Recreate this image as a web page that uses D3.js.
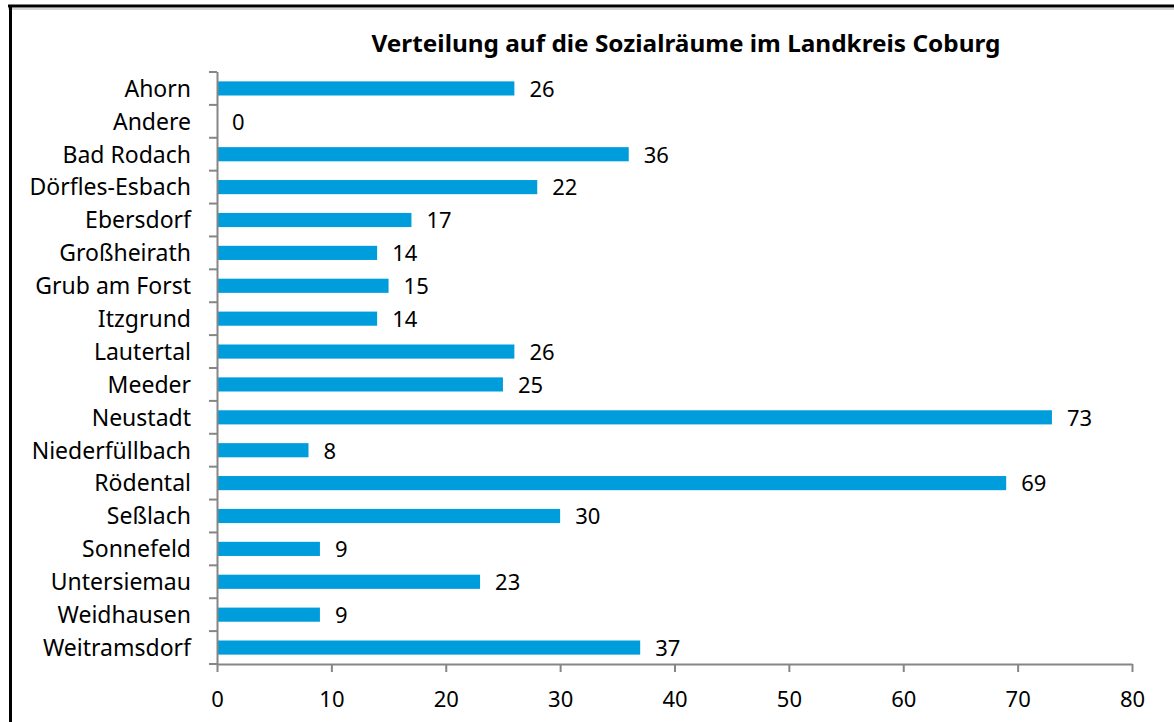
<!DOCTYPE html>
<html>
<head>
<meta charset="utf-8">
<script src="https://cdn.jsdelivr.net/npm/d3@7"></script>
<style>
  body { margin: 0; background: #fff; }
  svg text { font-family: "Noto Sans", sans-serif; }
</style>
</head>
<body>
<div class="canvas"></div>
<script>
const categories = ['Ahorn', 'Andere', 'Bad Rodach', 'Dörfles-Esbach', 'Ebersdorf', 'Großheirath',
    'Grub am Forst', 'Itzgrund', 'Lautertal', 'Meeder', 'Neustadt', 'Niederfüllbach',
    'Rödental', 'Seßlach', 'Sonnefeld', 'Untersiemau', 'Weidhausen', 'Weitramsdorf'];
const values = [26, 0, 36, 28, 17, 14, 15, 14, 26, 25, 73, 8, 69, 30, 9, 23, 9, 37];
const valueLabels = [26, 0, 36, 22, 17, 14, 15, 14, 26, 25, 73, 8, 69, 30, 9, 23, 9, 37];
const xTicks = [0, 10, 20, 30, 40, 50, 60, 70, 80];
const title = 'Verteilung auf die Sozialräume im Landkreis Coburg';

const width = 1174, height = 722;
const margin = {top: 72, right: 42, bottom: 58, left: 217};
const graphWidth = width - margin.left - margin.right;
const graphHeight = height - margin.top - margin.bottom;

const svg = d3.select('.canvas')
    .append('svg')
    .attr('width', width)
    .attr('height', height);

// frame lines (top and left)
svg.append('line').attr('x1', 8).attr('x2', width).attr('y1', 9).attr('y2', 9)
    .attr('stroke', '#aaa').attr('stroke-width', 1);
svg.append('line').attr('x1', 8).attr('x2', width).attr('y1', 6).attr('y2', 6)
    .attr('stroke', '#000').attr('stroke-width', 3);
svg.append('line').attr('x1', 10.5).attr('x2', 10.5).attr('y1', 5).attr('y2', height)
    .attr('stroke', '#000').attr('stroke-width', 3);

svg.append('text')
    .attr('x', 686)
    .attr('y', 52)
    .attr('text-anchor', 'middle')
    .attr('font-size', 23)
    .attr('font-weight', 'bold')
    .attr('textLength', 629)
    .attr('lengthAdjust', 'spacingAndGlyphs')
    .text(title);

const graph = svg.append('g')
    .attr('transform', `translate(${margin.left}, ${margin.top})`);

const x = d3.scaleLinear().domain([0, 80]).range([0, graphWidth]);
const y = d3.scaleBand().domain(categories).range([0, graphHeight])
    .paddingInner(0.57).paddingOuter(0.285);
const yEdge = d3.scaleLinear().domain([0, categories.length]).range([0, graphHeight]);

// bars
graph.selectAll('rect')
    .data(categories)
    .enter()
    .append('rect')
    .attr('x', x(0))
    .attr('y', d => y(d))
    .attr('height', y.bandwidth())
    .attr('width', (d, i) => x(values[i]) - x(0))
    .attr('fill', '#009ddc');

// value labels
graph.selectAll('.val')
    .data(categories)
    .enter()
    .append('text')
    .attr('class', 'val')
    .attr('x', (d, i) => x(values[i]) + 15)
    .attr('y', d => y(d) + y.bandwidth() / 2)
    .attr('dy', '0.38em')
    .attr('font-size', 22)
    .attr('fill', '#000')
    .text((d, i) => valueLabels[i]);

// y axis: line + boundary ticks
const axisColor = '#868686';
graph.append('line').attr('x1', 0.5).attr('x2', 0.5).attr('y1', 0).attr('y2', graphHeight)
    .attr('stroke', axisColor).attr('stroke-width', 2);
graph.selectAll('.ytick')
    .data(d3.range(categories.length + 1))
    .enter()
    .append('line')
    .attr('x1', -8).attr('x2', 0)
    .attr('y1', d => yEdge(d)).attr('y2', d => yEdge(d))
    .attr('stroke', axisColor).attr('stroke-width', 2);
graph.selectAll('.ylab')
    .data(categories)
    .enter()
    .append('text')
    .attr('x', -26)
    .attr('y', d => y(d) + y.bandwidth() / 2)
    .attr('dy', '0.36em')
    .attr('text-anchor', 'end')
    .attr('font-size', 23)
    .text(d => d);

// x axis
const xAxis = d3.axisBottom(x).tickValues(xTicks).tickSize(8).tickPadding(19).tickSizeOuter(0);
const xAxisGroup = graph.append('g')
    .attr('transform', `translate(0, ${graphHeight})`)
    .call(xAxis);
xAxisGroup.select('.domain').attr('stroke', axisColor).attr('stroke-width', 2);
xAxisGroup.selectAll('.tick line').attr('stroke', axisColor).attr('stroke-width', 2);
xAxisGroup.selectAll('.tick text')
    .attr('font-size', 22)
    .attr('fill', '#000')
    .style('font-family', '"Noto Sans", sans-serif');
</script>
</body>
</html>
